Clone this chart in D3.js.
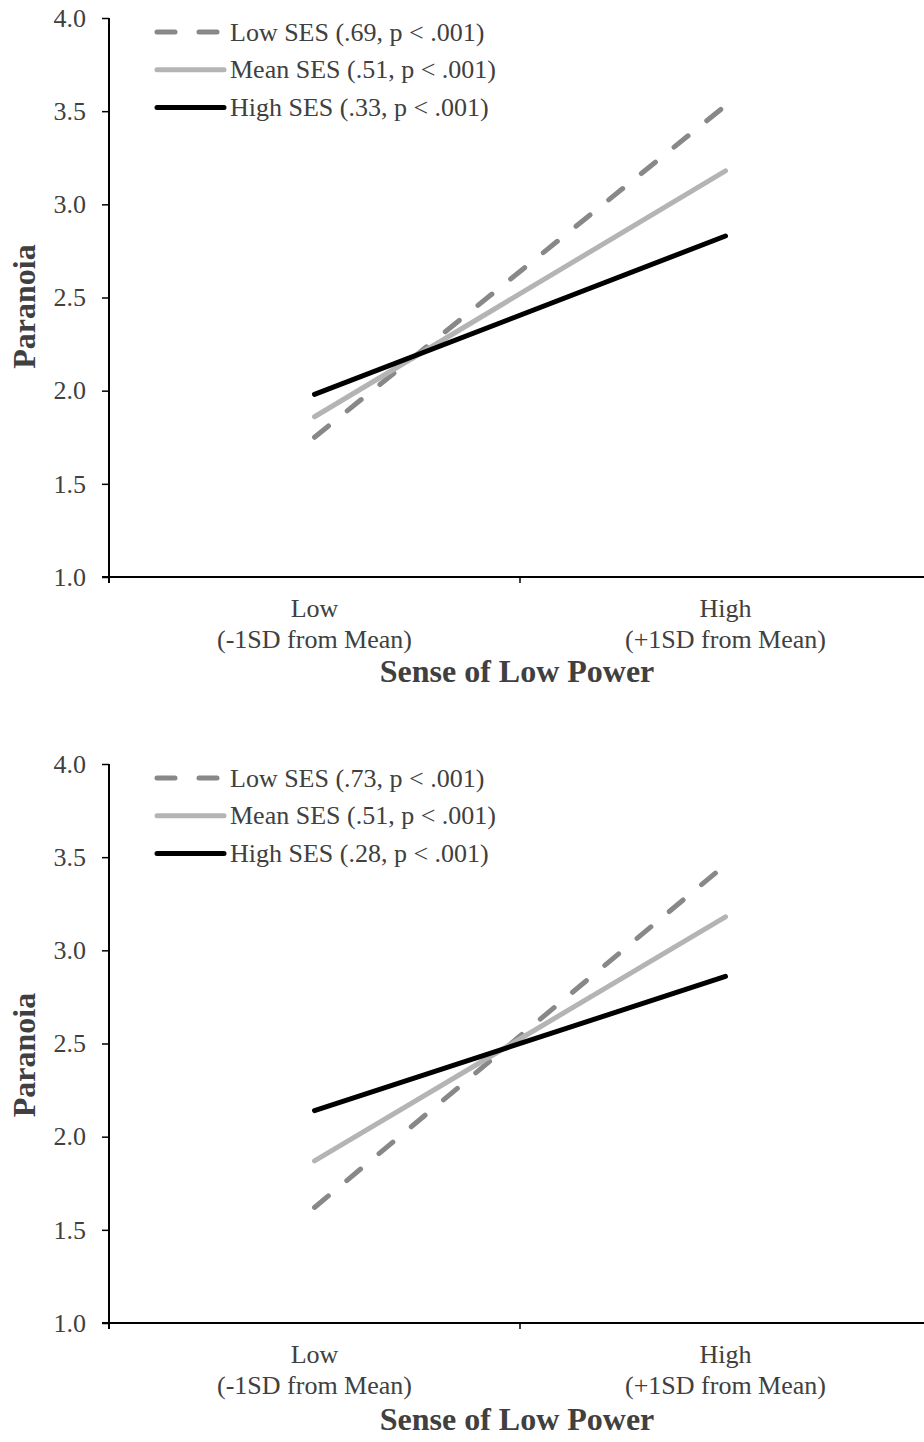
<!DOCTYPE html>
<html><head><meta charset="utf-8">
<script src="https://cdn.jsdelivr.net/npm/d3@7"></script>
<style>body{margin:0;background:#fff}svg{display:block}</style>
</head><body>
<svg id="chart" width="924" height="1442"></svg>
<script>
const categories = ["Low", "High"];
const categorySub = ["(-1SD from Mean)", "(+1SD from Mean)"];
const yTicks = [1.0, 1.5, 2.0, 2.5, 3.0, 3.5, 4.0];
const seriesNames = ["Low SES", "Mean SES", "High SES"];
const panel1Labels = ["Low SES (.69, p < .001)", "Mean SES (.51, p < .001)", "High SES (.33, p < .001)"];
const panel2Labels = ["Low SES (.73, p < .001)", "Mean SES (.51, p < .001)", "High SES (.28, p < .001)"];
const panel1LowSES = [1.75, 3.53];
const panel1MeanSES = [1.86, 3.18];
const panel1HighSES = [1.98, 2.83];
const panel2LowSES = [1.62, 3.46];
const panel2MeanSES = [1.87, 3.18];
const panel2HighSES = [2.14, 2.86];
const yTitle = "Paranoia";
const xTitle = "Sense of Low Power";

const styles = [
  {color: "#888888", dash: "18,24"},
  {color: "#b4b4b4", dash: null},
  {color: "#000000", dash: null}
];
const font = "'Liberation Serif','Times New Roman',serif";
const textColor = "#404040";
const fs = 26, fsBold = 32;
const svg = d3.select("#chart");

function drawPanel(top, bottom, seriesVals, labels, titleY, xTitleOff) {
  const left = 109, right = 931;
  const y = d3.scaleLinear().domain([1, 4]).range([bottom, top]);
  const x = d3.scaleBand().domain(categories).range([left, right]).padding(0);
  const g = svg.append("g");

  // y axis
  const ya = g.append("g").attr("transform", `translate(${left},0)`)
    .call(d3.axisLeft(y).tickValues(yTicks).tickFormat(d3.format(".1f")).tickSizeOuter(0).tickSize(7).tickPadding(16));
  ya.select(".domain").attr("stroke", "#000").attr("stroke-width", 2)
    .attr("d", `M0,${top}V${bottom + 6}`);
  ya.selectAll(".tick line").attr("stroke", "#000").attr("stroke-width", 1.5);
  ya.selectAll(".tick text").attr("font-family", font).attr("font-size", fs).attr("fill", textColor);

  // x axis
  const xa = g.append("g").attr("transform", `translate(0,${bottom})`)
    .call(d3.axisBottom(x).tickValues([]).tickSizeOuter(0));
  xa.select(".domain").attr("stroke", "#000").attr("stroke-width", 2)
    .attr("d", `M${left - 7},0H${right}`);
  g.append("line").attr("x1", x("High")).attr("x2", x("High"))
    .attr("y1", bottom).attr("y2", bottom + 6).attr("stroke", "#000").attr("stroke-width", 1.5);

  categories.forEach((c, i) => {
    const cx = x(c) + x.bandwidth() / 2;
    g.append("text").attr("x", cx).attr("y", bottom + 40).attr("text-anchor", "middle")
      .attr("font-family", font).attr("font-size", fs).attr("fill", textColor).text(c);
    g.append("text").attr("x", cx).attr("y", bottom + 71).attr("text-anchor", "middle")
      .attr("font-family", font).attr("font-size", fs).attr("fill", textColor).text(categorySub[i]);
  });

  g.append("text").attr("x", 517).attr("y", bottom + xTitleOff).attr("text-anchor", "middle")
    .attr("font-family", font).attr("font-size", fsBold).attr("font-weight", "bold").attr("fill", textColor).text(xTitle);
  g.append("text").attr("transform", `translate(35,${titleY}) rotate(-90)`).attr("text-anchor", "middle")
    .attr("font-family", font).attr("font-size", fsBold).attr("font-weight", "bold").attr("fill", textColor).text(yTitle);

  const line = d3.line().x((d, i) => x(categories[i]) + x.bandwidth() / 2).y(d => y(d));
  seriesVals.forEach((vals, i) => {
    g.append("path").datum(vals).attr("d", line).attr("fill", "none")
      .attr("stroke", styles[i].color).attr("stroke-width", 5).attr("stroke-linecap", "round")
      .attr("stroke-dasharray", styles[i].dash);
  });

  // legend
  labels.forEach((lab, i) => {
    const ly = top + 14 + i * 37.7;
    g.append("line").attr("x1", 157).attr("x2", 224).attr("y1", ly).attr("y2", ly)
      .attr("stroke", styles[i].color).attr("stroke-width", 5).attr("stroke-linecap", "round")
      .attr("stroke-dasharray", styles[i].dash);
    g.append("text").attr("x", 230).attr("y", ly + 8.5)
      .attr("font-family", font).attr("font-size", fs).attr("fill", textColor).text(lab);
  });
}

drawPanel(18, 577, [panel1LowSES, panel1MeanSES, panel1HighSES], panel1Labels, 306.5, 105);
drawPanel(764, 1323, [panel2LowSES, panel2MeanSES, panel2HighSES], panel2Labels, 1055, 107);
</script>
</body></html>
